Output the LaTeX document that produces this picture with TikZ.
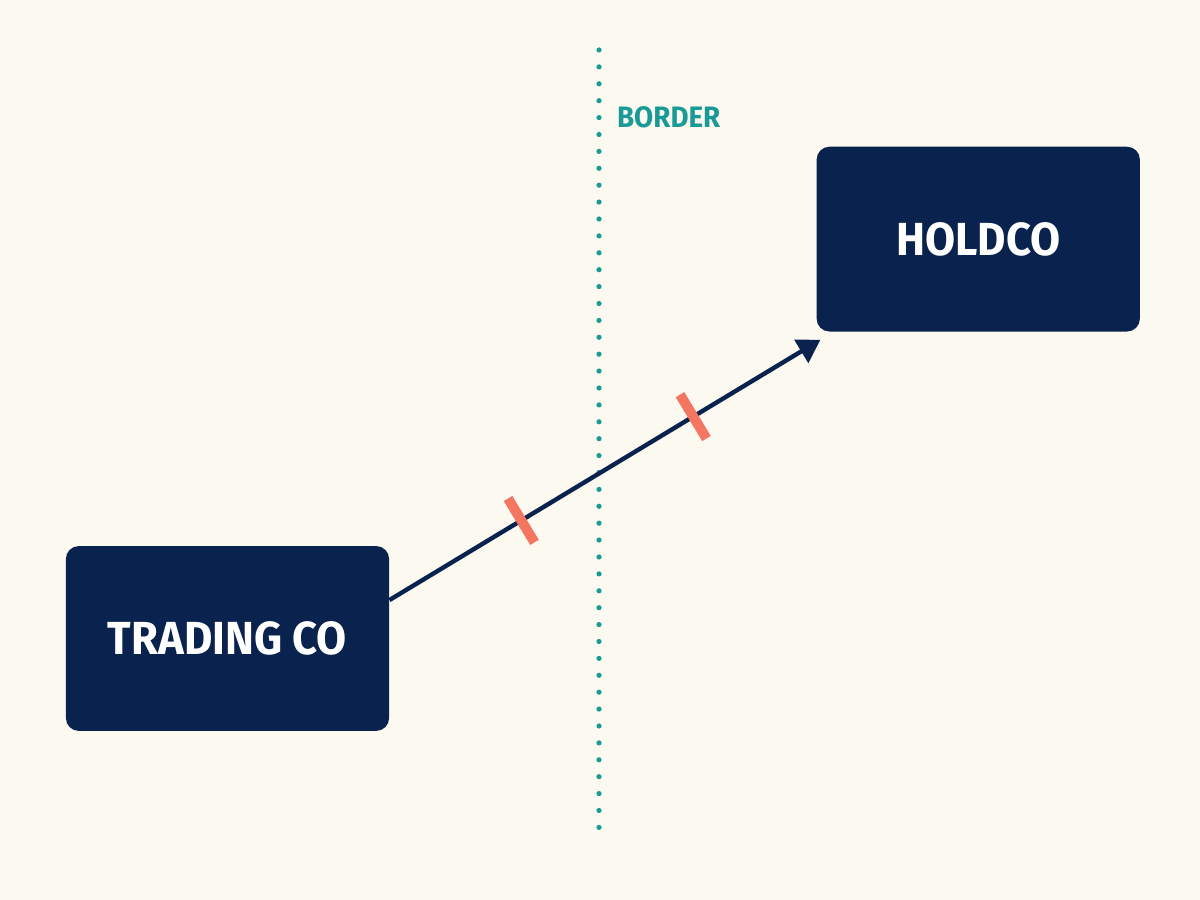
\documentclass[tikz,border=0pt]{standalone}
\usepackage{fontspec}
\setmainfont{Fira Sans}
\newfontfamily\narrowfont[FakeStretch=0.94]{Fira Sans}
\usepackage{xcolor}
\usepackage{tikz}
\usetikzlibrary{arrows.meta}
\usetikzlibrary{positioning}

\definecolor{paper}{RGB}{252,249,241}
\definecolor{navy}{RGB}{9,34,78}
\definecolor{teal}{RGB}{26,154,150}
\definecolor{salmon}{RGB}{244,117,96}

\begin{document}
\begin{tikzpicture}[node distance=3.5cm]

\tikzstyle{company} = [rectangle, rounded corners=0.32cm, fill=navy, text=white,
  minimum width=8.08cm, minimum height=4.62cm, inner sep=0pt,
  font=\narrowfont\bfseries\fontsize{33}{36}\selectfont]
\tikzstyle{flow} = [draw=navy, line width=0.11cm, -{Triangle[length=0.56cm, width=0.66cm]}]
\tikzstyle{cut} = [rectangle, fill=salmon, minimum width=0.25cm, minimum height=1.28cm,
  inner sep=0pt, anchor=center, sloped]

\fill[paper] (0,0) rectangle (30,22.5);
\useasboundingbox (0,0) rectangle (30,22.5);

% the border
\coordinate (bordertop) at (14.975,21.25);
\coordinate (borderbottom) at (14.975,1.55);
\draw[teal, line width=0.13cm, line cap=round, dash pattern=on 0pt off 0.4225cm]
  (bordertop) -- (borderbottom);
\node[text=teal, anchor=west, inner sep=0pt,
  font=\narrowfont\bfseries\fontsize{21}{24}\selectfont] (borderlabel) at (15.42,19.57) {BORDER};

% the two companies
\node[company] (trading) at (5.6875,6.5375) {TRADING CO};
\node[company] (holdco) [above right=5.35cm and 10.675cm of trading] {HOLDCO};

\coordinate (src) at ([yshift=0.96cm]trading.east);
\coordinate (dst) at ([xshift=0.1cm, yshift=-0.2cm]holdco.south west);

\path
  (src) edge[flow] node[cut, pos=0.306] {} node[cut, pos=0.705] {} (dst);

\end{tikzpicture}
\end{document}
